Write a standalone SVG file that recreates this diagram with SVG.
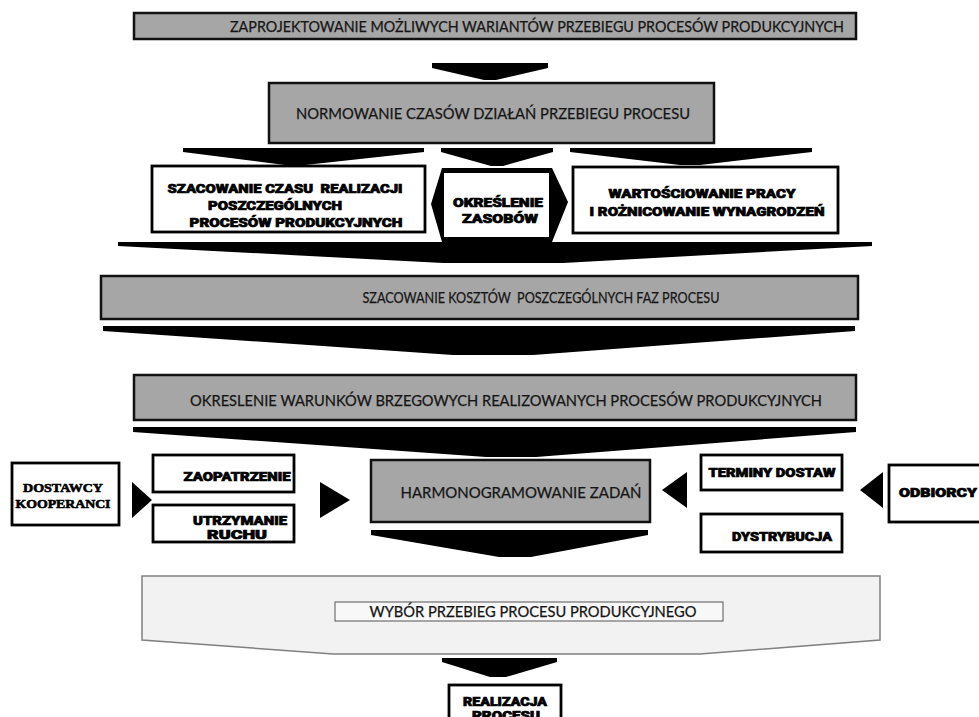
<svg xmlns="http://www.w3.org/2000/svg" width="979" height="717" viewBox="0 0 979 717">
<style>
.gbox{fill:#a6a6a6;stroke:#111;stroke-width:2.5}
.wbox{fill:#fff;stroke:#000;stroke-width:2.8}
.arr{fill:#000}
.gt{font-family:Lato,"Liberation Sans",sans-serif;font-size:15px;fill:#151515;stroke:#151515;stroke-width:0.25;text-anchor:middle;white-space:pre}
.bt{font-family:Roboto,"Liberation Sans",sans-serif;font-weight:900;font-size:12.5px;fill:#000;stroke:#000;stroke-width:0.7;text-anchor:middle;white-space:pre}
.st{font-family:"Liberation Serif",serif;font-weight:bold;font-size:12.5px;fill:#000;stroke:#000;stroke-width:0.6;text-anchor:middle}
</style>
<rect width="979" height="717" fill="#fff"/>
<g id="connectors">
<polygon class="arr" points="432,63 548,63 548,68 496,80 484,80 432,68"/>
<polygon class="arr" points="183,148 424,148 424,152 305,165 285,165 183,152"/>
<polygon class="arr" points="441,148 553,148 553,152 503,166 491,166 441,152"/>
<polygon class="arr" points="570,148 812,148 812,152 700,165 680,165 570,152"/>
<polygon class="arr" points="118,242 872,242 872,246 563,263 443,263 118,246"/>
<polygon class="arr" points="103,326 855,326 855,331 533,355 453,355 103,331"/>
<polygon class="arr" points="133,427 856,427 856,432 536,457 486,457 133,432"/>
<polygon class="arr" points="132,482 152,500 132,518"/>
<polygon class="arr" points="320,482 350,500 320,518"/>
<polygon class="arr" points="687,472 662,490 687,508"/>
<polygon class="arr" points="883,472 860,490 883,508"/>
<polygon class="arr" points="371,530 648,530 648,535 531,557 499,557 371,535"/>
<polygon class="arr" points="442,658 557,658 557,662 506,677 490,677 442,662"/>
</g>
<g id="n1"><rect class="gbox" x="134" y="13" width="722" height="26"/>
<text class="gt" x="537" y="31.5" textLength="614" lengthAdjust="spacingAndGlyphs">ZAPROJEKTOWANIE MOŻLIWYCH WARIANTÓW PRZEBIEGU PROCESÓW PRODUKCYJNYCH</text></g>
<g id="n2"><rect class="gbox" x="269" y="83" width="445" height="60"/>
<text class="gt" x="493" y="118.5" textLength="394" lengthAdjust="spacingAndGlyphs">NORMOWANIE CZASÓW DZIAŁAŃ PRZEBIEGU PROCESU</text></g>
<g id="n3"><rect class="wbox" x="152" y="166" width="273" height="66"/>
<text class="bt" x="285" y="193" textLength="235" lengthAdjust="spacingAndGlyphs">SZACOWANIE CZASU  REALIZACJI</text>
<text class="bt" x="275" y="210" textLength="134" lengthAdjust="spacingAndGlyphs">POSZCZEGÓLNYCH</text>
<text class="bt" x="296" y="227" textLength="213" lengthAdjust="spacingAndGlyphs">PROCESÓW PRODUKCYJNYCH</text></g>
<g id="n4"><polygon fill="#000" points="431,204 442,168 552,168 568,202 552,242 442,242"/>
<rect x="444" y="173" width="105" height="64" fill="#fff"/>
<text class="bt" x="498" y="207" textLength="90" lengthAdjust="spacingAndGlyphs">OKREŚLENIE</text>
<text class="bt" x="500" y="223" textLength="76" lengthAdjust="spacingAndGlyphs">ZASOBÓW</text></g>
<g id="n5"><rect class="wbox" x="573" y="167" width="265" height="66"/>
<text class="bt" x="702" y="198" textLength="187" lengthAdjust="spacingAndGlyphs">WARTOŚCIOWANIE PRACY</text>
<text class="bt" x="707" y="216" textLength="235" lengthAdjust="spacingAndGlyphs">I ROŻNICOWANIE WYNAGRODZEŃ</text></g>
<g id="n6"><rect class="gbox" x="101" y="276" width="757" height="43"/>
<text class="gt" x="541" y="303" textLength="357" lengthAdjust="spacingAndGlyphs">SZACOWANIE KOSZTÓW  POSZCZEGÓLNYCH FAZ PROCESU</text></g>
<g id="n7"><rect class="gbox" x="134" y="375" width="722" height="45"/>
<text class="gt" x="506" y="406" textLength="632" lengthAdjust="spacingAndGlyphs">OKRESLENIE WARUNKÓW BRZEGOWYCH REALIZOWANYCH PROCESÓW PRODUKCYJNYCH</text></g>
<g id="n8"><rect class="wbox" x="12" y="463" width="107" height="62"/>
<text class="st" x="63" y="492" textLength="80" lengthAdjust="spacingAndGlyphs">DOSTAWCY</text>
<text class="st" x="63" y="508" textLength="95" lengthAdjust="spacingAndGlyphs">KOOPERANCI</text></g>
<g id="n9"><rect class="wbox" x="153" y="455" width="141" height="37"/>
<text class="bt" x="237" y="481" textLength="107" lengthAdjust="spacingAndGlyphs">ZAOPATRZENIE</text></g>
<g id="n10"><rect class="wbox" x="153" y="505" width="141" height="37"/>
<text class="bt" x="240" y="525" textLength="94" lengthAdjust="spacingAndGlyphs">UTRZYMANIE</text>
<text class="bt" x="237" y="539" textLength="60" lengthAdjust="spacingAndGlyphs">RUCHU</text></g>
<g id="n11"><rect class="gbox" x="371" y="460" width="279" height="62"/>
<text class="gt" x="521" y="497.5" textLength="241" lengthAdjust="spacingAndGlyphs">HARMONOGRAMOWANIE ZADAŃ</text></g>
<g id="n12"><rect class="wbox" x="701" y="455" width="141" height="35"/>
<text class="bt" x="772" y="477" textLength="127" lengthAdjust="spacingAndGlyphs">TERMINY DOSTAW</text></g>
<g id="n13"><rect class="wbox" x="701" y="514" width="141" height="38"/>
<text class="bt" x="782" y="541" textLength="100" lengthAdjust="spacingAndGlyphs">DYSTRYBUCJA</text></g>
<g id="n14"><rect class="wbox" x="889" y="465" width="100" height="57"/>
<text class="bt" x="938" y="497" textLength="78" lengthAdjust="spacingAndGlyphs">ODBIORCY</text></g>
<g id="n15"><polygon points="142,576 880,576 880,640 700,654 333,654 142,640" fill="#f2f2f2" stroke="#808080" stroke-width="1.5"/>
<rect x="335" y="602" width="388" height="19" fill="#f8f8f8" stroke="#555" stroke-width="1"/>
<text class="gt" x="533" y="616.5" font-size="13.5" textLength="327" lengthAdjust="spacingAndGlyphs">WYBÓR PRZEBIEG PROCESU PRODUKCYJNEGO</text></g>
<g id="n16"><rect class="wbox" x="449" y="685" width="112" height="50"/>
<text class="bt" x="505" y="706" textLength="84" lengthAdjust="spacingAndGlyphs">REALIZACJA</text>
<text class="bt" x="506" y="720" textLength="68" lengthAdjust="spacingAndGlyphs">PROCESU</text></g>
</svg>
